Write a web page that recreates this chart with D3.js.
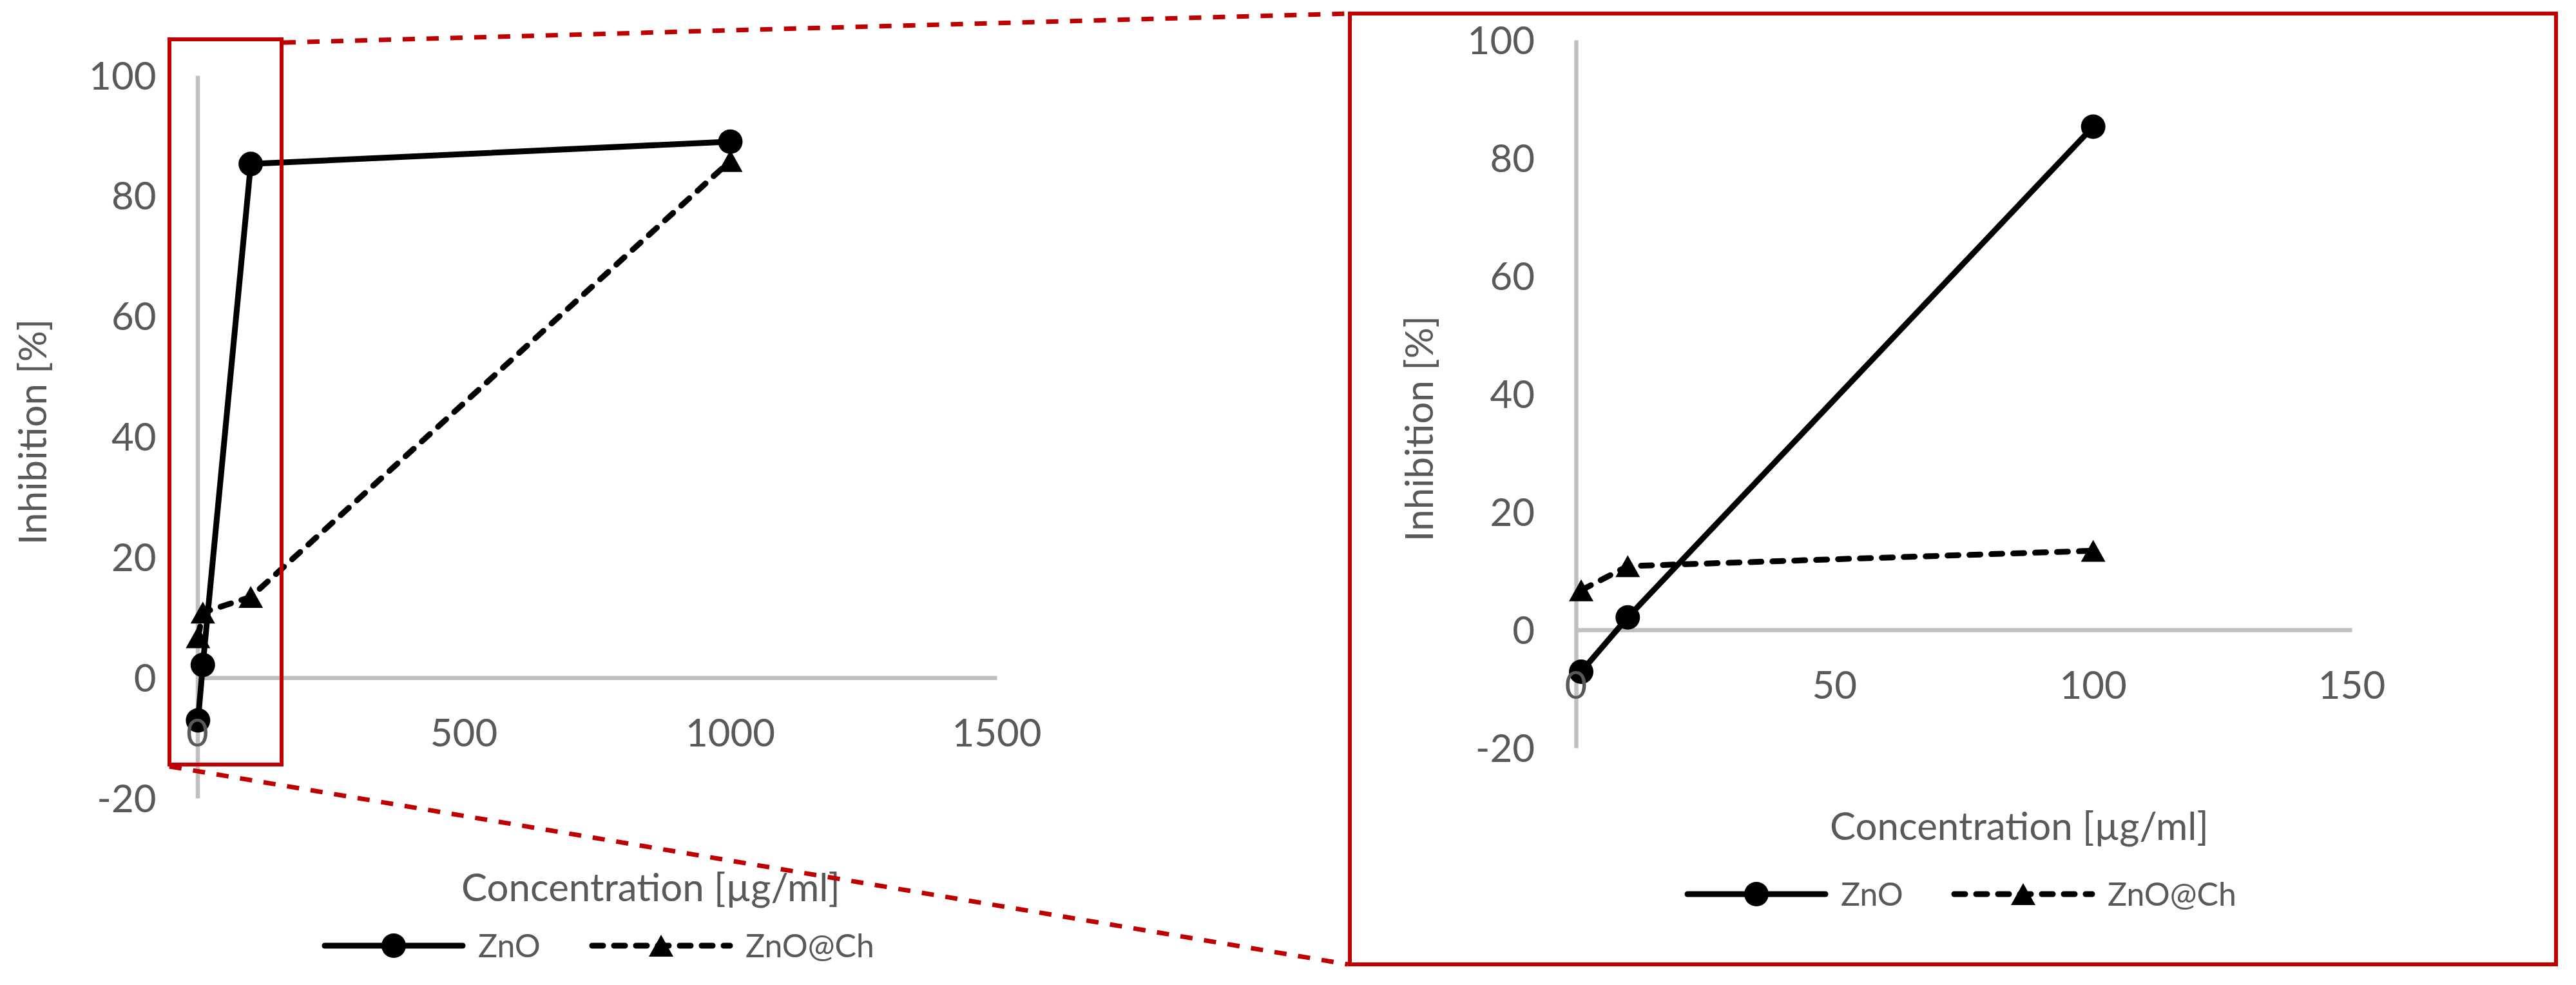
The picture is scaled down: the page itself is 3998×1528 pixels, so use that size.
<!DOCTYPE html>
<html>
<head>
<meta charset="utf-8">
<script src="https://cdn.jsdelivr.net/npm/d3@7"></script>
<style>
  body { margin: 0; background: #fff; }
  text { font-family: Lato, "Open Sans", sans-serif; fill: #595959; }
</style>
</head>
<body>
<div id="chart"></div>
<script>
// data
var concentration = [1, 10, 100, 1000];
var znoValues = [-7.1, 2.1, 85.3, 89.0];
var znoChValues = [6.7, 10.8, 13.4, 85.8];
var seriesNames = ["ZnO", "ZnO@Ch"];
var yTicks = [-20, 0, 20, 40, 60, 80, 100];
var xTicksFull = [0, 500, 1000, 1500];
var xTicksZoom = [0, 50, 100, 150];
var xTitle = "Concentration [µg/ml]";
var yTitle = "Inhibition [%]";

var svgWidth = 3998;
var svgHeight = 1528;

var svg = d3.select("#chart")
  .append("svg")
  .attr("width", svgWidth)
  .attr("height", svgHeight);

var axisColor = "#BFBFBF";
var red = "#C00000";

var series = [
  { name: seriesNames[0], values: znoValues, dash: null, marker: "circle" },
  { name: seriesNames[1], values: znoChValues, dash: "17,17", marker: "triangle" }
];

var triPath = "M0,-17L19,17L-19,17Z";

function drawMarker(g, type, x, y) {
  if (type === "circle") {
    g.append("circle").attr("cx", x).attr("cy", y).attr("r", 19).attr("fill", "#000");
  } else {
    g.append("path").attr("d", triPath)
      .attr("transform", `translate(${x},${y})`).attr("fill", "#000");
  }
}

function drawPanel(cfg) {
  var g = svg.append("g");

  var xScale = d3.scaleLinear().domain([0, cfg.xMax]).range([cfg.left, cfg.right]);
  var yScale = d3.scaleLinear().domain([-20, 100]).range([cfg.bottom, cfg.top]);

  // axis lines
  var xAxis = g.append("g")
    .attr("transform", `translate(0, ${yScale(0)})`)
    .call(d3.axisBottom(xScale).tickValues(cfg.xTicks).tickSize(0).tickSizeOuter(0).tickPadding(0));
  var yAxis = g.append("g")
    .attr("transform", `translate(${xScale(0)}, 0)`)
    .call(d3.axisLeft(yScale).tickValues(yTicks).tickSize(0).tickSizeOuter(0).tickPadding(64));

  [xAxis, yAxis].forEach(function(ax) {
    ax.select(".domain").attr("stroke", axisColor).attr("stroke-width", 6.5);
    ax.selectAll("text").remove();
  });

  // series lines and markers
  var line = d3.line().x(d => xScale(d.x)).y(d => yScale(d.y));
  series.forEach(function(s) {
    var pts = concentration.map((c, i) => ({ x: c, y: s.values[i] }))
      .filter(d => d.x <= cfg.xMax);
    g.append("path")
      .datum(pts)
      .attr("d", line)
      .attr("fill", "none")
      .attr("stroke", "#000")
      .attr("stroke-width", 9)
      .attr("stroke-linecap", "round")
      .attr("stroke-linejoin", "round")
      .attr("stroke-dasharray", s.dash);
    pts.forEach(function(d) { drawMarker(g, s.marker, xScale(d.x), yScale(d.y)); });
  });

  // tick labels on top of the markers
  g.selectAll(".xlab")
    .data(cfg.xTicks)
    .enter()
    .append("text")
    .attr("x", d => xScale(d))
    .attr("y", yScale(0) + 85)
    .attr("dy", "0.36em")
    .attr("text-anchor", "middle")
    .attr("font-size", "60px")
    .text(d => d);

  g.selectAll(".ylab")
    .data(yTicks)
    .enter()
    .append("text")
    .attr("x", xScale(0) - 64)
    .attr("y", d => yScale(d))
    .attr("dy", "0.36em")
    .attr("text-anchor", "end")
    .attr("font-size", "60px")
    .text(d => d);

  g.append("text")
    .attr("transform", `translate(${cfg.yTitleX}, ${cfg.yTitleY}) rotate(-90)`)
    .attr("text-anchor", "middle")
    .attr("font-size", "60px")
    .text(yTitle);

  g.append("text")
    .attr("x", cfg.xTitleX)
    .attr("y", cfg.xTitleY)
    .attr("text-anchor", "middle")
    .attr("font-size", "60px")
    .text(xTitle);

  // legend
  series.forEach(function(s, i) {
    var lx = cfg.legendX[i];
    g.append("line")
      .attr("x1", lx).attr("x2", lx + 214)
      .attr("y1", cfg.legendY).attr("y2", cfg.legendY)
      .attr("stroke", "#000")
      .attr("stroke-width", 9)
      .attr("stroke-linecap", "round")
      .attr("stroke-dasharray", s.dash);
    drawMarker(g, s.marker, lx + 107, cfg.legendY);
    g.append("text")
      .attr("x", lx + 238)
      .attr("y", cfg.legendY)
      .attr("dy", "0.36em")
      .attr("font-size", "50px")
      .text(s.name);
  });
}

drawPanel({
  xMax: 1500, xTicks: xTicksFull,
  left: 306.5, right: 1547, top: 117, bottom: 1238,
  yTitleX: 72, yTitleY: 670,
  xTitleX: 1010, xTitleY: 1398,
  legendX: [504, 919], legendY: 1467
});

drawPanel({
  xMax: 150, xTicks: xTicksZoom,
  left: 2446, right: 3650, top: 62, bottom: 1160,
  yTitleX: 2224, yTitleY: 665,
  xTitleX: 3134, xTitleY: 1303,
  legendX: [2619, 3033], legendY: 1387
});

// zoom annotation
var note = svg.append("g")
  .attr("fill", "none")
  .attr("stroke", red);

note.append("rect")
  .attr("x", 263).attr("y", 61)
  .attr("width", 437 - 263).attr("height", 1186 - 61)
  .attr("stroke-width", 6);

note.append("rect")
  .attr("x", 2095).attr("y", 21)
  .attr("width", 3967 - 2095).attr("height", 1496 - 21)
  .attr("stroke-width", 6);

note.append("line")
  .attr("x1", 440).attr("y1", 66).attr("x2", 2092).attr("y2", 21)
  .attr("stroke-width", 7).attr("stroke-dasharray", "19,18");

note.append("line")
  .attr("x1", 263).attr("y1", 1189).attr("x2", 2092).attr("y2", 1496)
  .attr("stroke-width", 7).attr("stroke-dasharray", "19,18");
</script>
</body>
</html>
